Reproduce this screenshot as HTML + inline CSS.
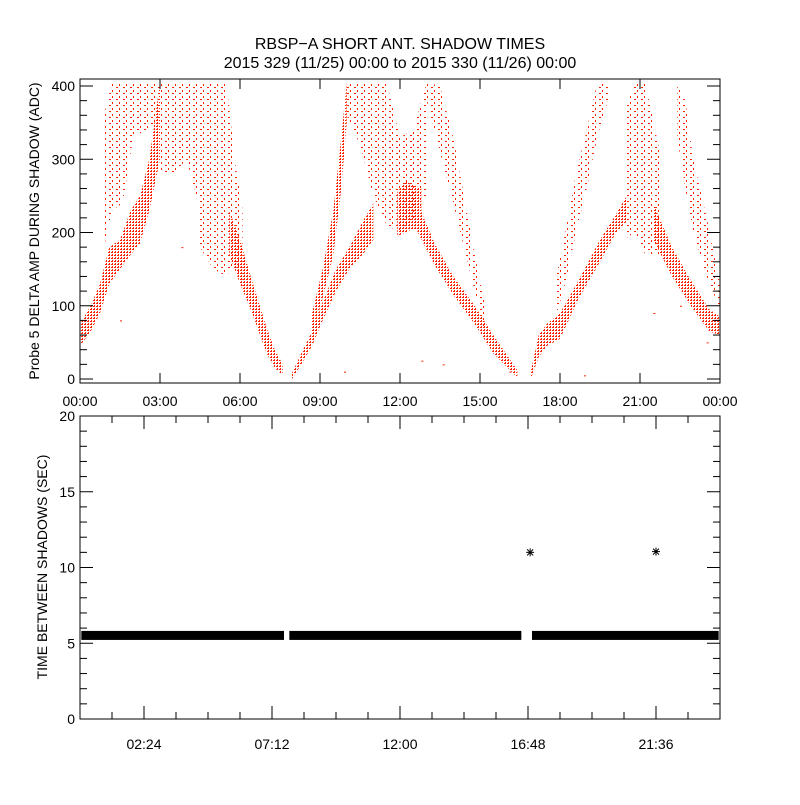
<!DOCTYPE html>
<html><head><meta charset="utf-8"><style>
html,body{margin:0;padding:0;background:#fff;}
svg text{font-family:"Liberation Sans",sans-serif;fill:#000;}
</style></head><body>
<svg id="chart" width="800" height="800" xmlns="http://www.w3.org/2000/svg">
<defs>
<pattern id="dense" width="3" height="3" patternUnits="userSpaceOnUse"><rect x="0" y="0" width="2" height="1" fill="#ff2200"/><rect x="1" y="2" width="1" height="1" fill="#ff2200"/></pattern>
<pattern id="sparse" width="7" height="6" patternUnits="userSpaceOnUse"><rect x="0" y="0" width="1" height="2" fill="#ff2200"/><rect x="4" y="3" width="2" height="1" fill="#ff2200"/></pattern>
</defs>
<rect x="0" y="0" width="800" height="800" fill="#fff"/>
<text x="400" y="49" font-size="16" text-anchor="middle">RBSP−A SHORT ANT. SHADOW TIMES</text>
<text x="400" y="68" font-size="16" text-anchor="middle">2015 329 (11/25) 00:00 to 2015 330 (11/26) 00:00</text>
<g id="topPlot"></g>
<g id="botPlot"></g>
<text transform="translate(39,231) rotate(-90)" font-size="14" text-anchor="middle">Probe 5 DELTA AMP DURING SHADOW (ADC)</text>
<text transform="translate(47,567) rotate(-90)" font-size="14" text-anchor="middle">TIME BETWEEN SHADOWS (SEC)</text>
</svg>
<script>
// ---- top chart data: bands (hours, low value, high value) ----
const bandNames = ['pass1-lower','pass1-upper','pass1-cap','pass1-desc-scatter','pass1-desc-lower','pass2-lower','pass2-upper','pass2-cap','pass2-cluster','pass2-desc-lower','pass2-desc-upper','pass3-lower','pass3-upper','pass3-mid','pass3-desc-lower','pass3-desc-upper'];
const bandDense = [1,0,0,0,1,1,1,0,1,1,0,1,0,0,1,0];
const bandHours = [
 [0,0.4,0.75,1.1,1.5,1.9,2.25,2.6,3.0],
 [0.9,1.2,1.6,2.0,2.5,3.0],
 [3.0,3.5,4.0,4.5,5.0,5.5],
 [4.5,5.0,5.5,5.8,6.1],
 [5.6,6.0,6.4,6.7,7.0,7.3,7.6],
 [7.95,8.3,8.7,9.1,9.6,10.1,10.6,11.0],
 [8.7,9.1,9.5,9.8,10.0],
 [10.0,10.5,11.0,11.5,12.0,12.5,13.0],
 [11.9,12.2,12.5,12.8],
 [12.6,13.3,14.0,14.8,15.5,16.4],
 [13.0,13.5,14.0,14.4,14.8,15.2],
 [16.9,17.2,17.5,18.0,18.7,19.5,20.1,20.5],
 [17.8,18.2,18.6,19.0,19.4,19.8],
 [20.4,20.8,21.2,21.8],
 [21.5,22.2,22.9,23.6,24],
 [22.4,22.7,23.0,23.5,24]
];
const bandLow = [
 [45,65,90,130,150,170,185,230,300],
 [180,230,240,330,340,350],
 [280,280,300,230,220,260],
 [180,150,140,160,120],
 [170,130,95,65,35,15,5],
 [0,20,45,80,120,150,170,190],
 [60,110,170,260,350],
 [360,320,250,210,200,215,250],
 [195,200,205,200],
 [205,155,115,75,35,2],
 [380,310,240,180,120,60],
 [0,30,45,55,110,160,200,215],
 [80,130,200,260,330,380],
 [190,200,170,170],
 [190,140,100,65,60],
 [330,260,200,140,95]
];
const bandHigh = [
 [75,100,130,180,190,230,250,300,405],
 [360,405,405,405,405,405],
 [405,405,405,405,405,405],
 [300,300,405,300,230],
 [230,190,140,105,70,40,20],
 [8,35,65,105,150,180,215,240],
 [90,150,230,330,405],
 [405,405,405,405,330,340,405],
 [255,270,265,260],
 [245,185,140,100,60,12],
 [405,400,330,250,170,100],
 [10,60,75,90,135,190,225,250],
 [130,200,280,340,405,405],
 [360,405,405,300],
 [240,180,135,95,85],
 [405,380,300,220,130]
];
const outHours = [1.5,3.8,9.9,12.8,13.6,16.1,18.9,21.5,22.5,23.5];
const outValues = [80,180,10,25,20,10,5,90,100,50];
// ---- bottom chart data ----
const segStart = [0.05,7.85,16.95];
const segEnd = [7.65,16.55,23.95];
const segValue = [5.55,5.55,5.55];
const spikeHours = [16.88,21.6];
const spikeValues = [11.0,11.05];
const topYTicks = [0,100,200,300,400];
const topXTicks = ['00:00','03:00','06:00','09:00','12:00','15:00','18:00','21:00','00:00'];
const botYTicks = [0,5,10,15,20];
const botXTicks = ['02:24','07:12','12:00','16:48','21:36'];

const NS='http://www.w3.org/2000/svg';
function mk(tag,attrs,parent){const e=document.createElementNS(NS,tag);for(const k in attrs)e.setAttribute(k,attrs[k]);parent.appendChild(e);return e;}
const X0=80,X1=720;
const xT=h=>X0+h*(X1-X0)/24;
const yT=v=>379-v*0.7325;
const yB=v=>719-v*15.15;
const topG=document.getElementById('topPlot'), botG=document.getElementById('botPlot');

// top bands
const bandG=mk('g',{},topG);


for(let b=0;b<bandHours.length;b++){
  const H=bandHours[b],L=bandLow[b],U=bandHigh[b];
  const pts=[];
  for(let i=0;i<H.length;i++)pts.push(xT(H[i]).toFixed(1)+','+yT(U[i]).toFixed(1));
  for(let i=H.length-1;i>=0;i--)pts.push(xT(H[i]).toFixed(1)+','+yT(L[i]).toFixed(1));
  const p=mk('polygon',{points:pts.join(' '),fill:bandDense[b]?'url(#dense)':'url(#sparse)'},bandG);
  
  
}
for(let i=0;i<outHours.length;i++){
  const r=mk('rect',{x:xT(outHours[i]),y:yT(outValues[i]),width:2,height:1,fill:'#ff2200'},bandG);
  
  
}
// top frame
function frame(g,y0,y1){return mk('rect',{x:X0,y:y0,width:X1-X0,height:y1-y0,fill:'none',stroke:'#000','stroke-width':1},g);}
const tf=frame(topG,79,383);


for(let v=0;v<=400;v+=20){
  const y=yT(v),len=(v%100===0)?13:7;
  mk('line',{x1:X0,x2:X0+len,y1:y,y2:y,stroke:'#000'},topG);
  mk('line',{x1:X1,x2:X1-len,y1:y,y2:y,stroke:'#000'},topG);
}
topYTicks.forEach(v=>{const t=mk('text',{x:75,y:yT(v)+5,'font-size':14,'text-anchor':'end'},topG);t.textContent=v;
  
  });
topXTicks.forEach((s,i)=>{const x=xT(i*3);
  mk('line',{x1:x,x2:x,y1:383,y2:373,stroke:'#000'},topG);
  mk('line',{x1:x,x2:x,y1:79,y2:89,stroke:'#000'},topG);
  const t=mk('text',{x:x,y:406,'font-size':14,'text-anchor':'middle'},topG);t.textContent=s;
  
  });

// bottom series
const segG=mk('g',{},botG);


for(let i=0;i<segStart.length;i++){
  const r=mk('rect',{x:xT(segStart[i]),y:yB(segValue[i])-4,width:xT(segEnd[i])-xT(segStart[i]),height:9,fill:'#000'},segG);
  
  
}
for(let i=0;i<spikeHours.length;i++){
  const cx=xT(spikeHours[i]),cy=yB(spikeValues[i]);
  const g=mk('g',{stroke:'#000','stroke-width':1},segG);
  
  
  mk('line',{x1:cx-4,x2:cx+4,y1:cy,y2:cy},g);
  mk('line',{x1:cx,x2:cx,y1:cy-4,y2:cy+4},g);
  mk('line',{x1:cx-3,x2:cx+3,y1:cy-3,y2:cy+3},g);
  mk('line',{x1:cx-3,x2:cx+3,y1:cy+3,y2:cy-3},g);
}
const bf=frame(botG,416,719);


for(let v=0;v<=20;v+=1){
  const y=yB(v),len=(v%5===0)?13:7;
  mk('line',{x1:X0,x2:X0+len,y1:y,y2:y,stroke:'#000'},botG);
  mk('line',{x1:X1,x2:X1-len,y1:y,y2:y,stroke:'#000'},botG);
}
botYTicks.forEach(v=>{const t=mk('text',{x:75,y:yB(v)+5,'font-size':14,'text-anchor':'end'},botG);t.textContent=v;
  
  });
for(let k=1;k<20;k++){const x=xT(k*1.2),len=(k%4===2)?13:7;
  mk('line',{x1:x,x2:x,y1:719,y2:719-len,stroke:'#000'},botG);
  mk('line',{x1:x,x2:x,y1:416,y2:416+len,stroke:'#000'},botG);}
botXTicks.forEach((s,i)=>{const x=xT(2.4+i*4.8);
  const t=mk('text',{x:x,y:749,'font-size':14,'text-anchor':'middle'},botG);t.textContent=s;
  
  });
</script>
</body></html>
